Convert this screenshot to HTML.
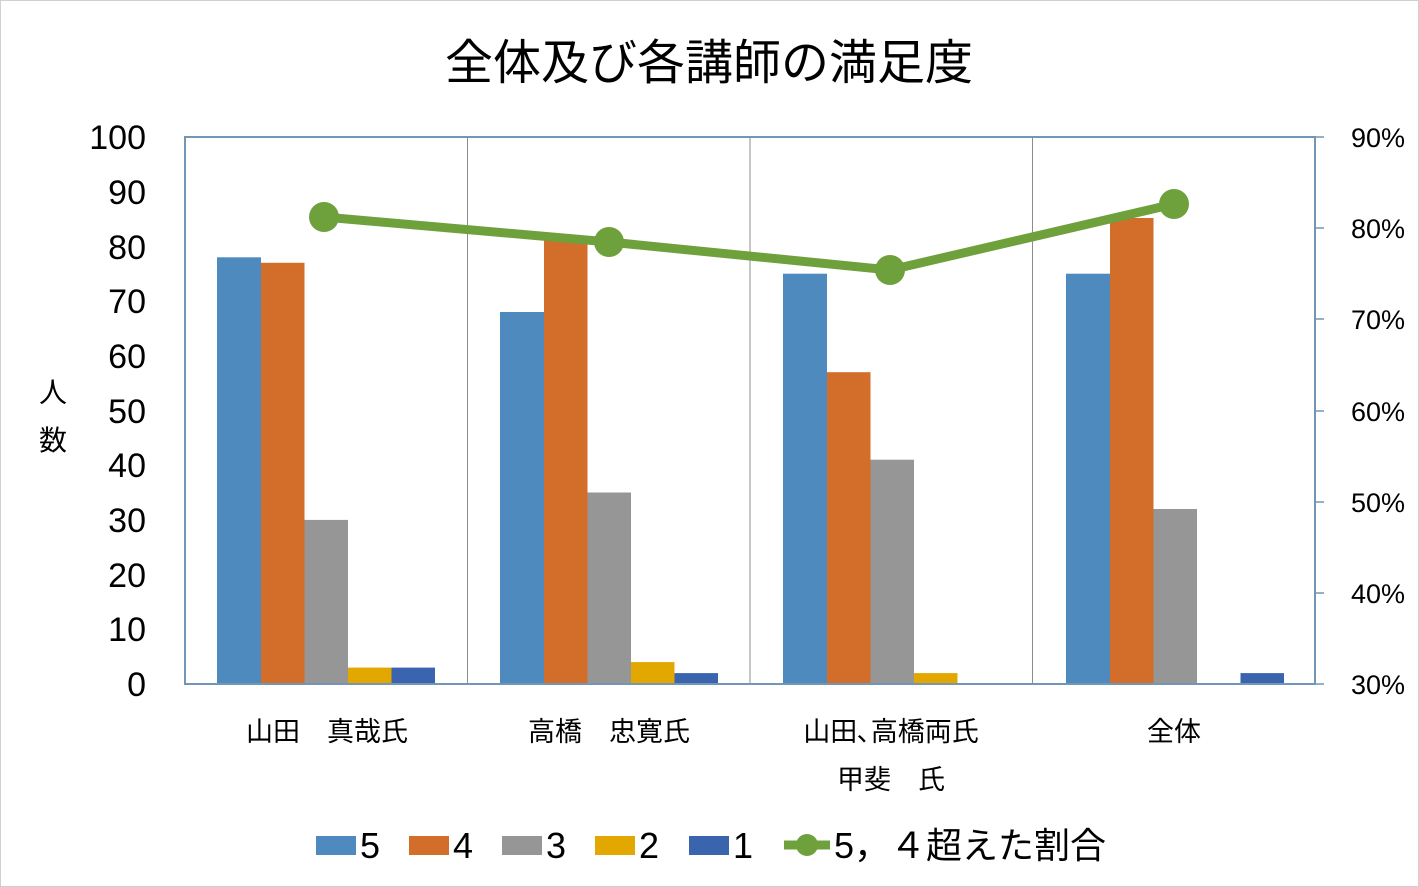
<!DOCTYPE html>
<html><head><meta charset="utf-8"><style>
html,body{margin:0;padding:0;background:#fff}
svg{display:block}
text{font-family:"Liberation Sans","Noto Sans CJK JP",sans-serif;fill:#000}
</style></head><body>
<svg width="1419" height="887" viewBox="0 0 1419 887" xmlns="http://www.w3.org/2000/svg">
<rect x="0.5" y="0.5" width="1418" height="886" fill="#fff" stroke="#d0d0d0"/>
<text x="709" y="79" font-size="48" text-anchor="middle">全体及び各講師の満足度</text>
<g stroke="#8c8c8c" stroke-width="1">
<line x1="467.5" y1="137" x2="467.5" y2="684"/>
<line x1="750" y1="137" x2="750" y2="684"/>
<line x1="1032.5" y1="137" x2="1032.5" y2="684"/>
</g>
<g>
<rect x="217" y="257.3" width="44" height="426.7" fill="#4f8abe"/>
<rect x="261" y="262.8" width="43.5" height="421.2" fill="#d26d2a"/>
<rect x="304.5" y="519.9" width="43.5" height="164.1" fill="#969696"/>
<rect x="348" y="667.6" width="43.5" height="16.4" fill="#e2a800"/>
<rect x="391.5" y="667.6" width="43.5" height="16.4" fill="#3a64ae"/>
<rect x="500" y="312" width="44" height="372" fill="#4f8abe"/>
<rect x="544" y="240" width="43.5" height="444" fill="#d26d2a"/>
<rect x="587.5" y="492.5" width="43.5" height="191.5" fill="#969696"/>
<rect x="631" y="662.1" width="43.5" height="21.9" fill="#e2a800"/>
<rect x="674.5" y="673.1" width="43.5" height="10.9" fill="#3a64ae"/>
<rect x="783" y="273.7" width="44" height="410.3" fill="#4f8abe"/>
<rect x="827" y="372.2" width="43.5" height="311.8" fill="#d26d2a"/>
<rect x="870.5" y="459.7" width="43.5" height="224.3" fill="#969696"/>
<rect x="914" y="673.1" width="43.5" height="10.9" fill="#e2a800"/>
<rect x="1066" y="273.7" width="44" height="410.3" fill="#4f8abe"/>
<rect x="1110" y="218" width="43.5" height="466" fill="#d26d2a"/>
<rect x="1153.5" y="509" width="43.5" height="175" fill="#969696"/>
<rect x="1240.5" y="673.1" width="43.5" height="10.9" fill="#3a64ae"/>
</g>
<g stroke="#7396b4" stroke-width="2" fill="none">
<line x1="185" y1="137" x2="1315" y2="137"/>
<line x1="185" y1="136" x2="185" y2="685"/>
<line x1="1315" y1="136" x2="1315" y2="685"/>
<line x1="184" y1="684" x2="1316" y2="684"/>
<g stroke-width="1.5">
<line x1="1315" y1="137" x2="1324" y2="137"/><line x1="1315" y1="228" x2="1324" y2="228"/>
<line x1="1315" y1="319" x2="1324" y2="319"/><line x1="1315" y1="411" x2="1324" y2="411"/>
<line x1="1315" y1="502" x2="1324" y2="502"/><line x1="1315" y1="593" x2="1324" y2="593"/>
<line x1="1315" y1="684" x2="1324" y2="684"/>
</g>
</g>
<polyline points="324,217 609,242 890,270 1174,204" fill="none" stroke="#6ea03c" stroke-width="9" stroke-linejoin="round"/>
<g fill="#6ea03c">
<circle cx="324" cy="217" r="15"/><circle cx="609" cy="242" r="15"/>
<circle cx="890" cy="270" r="15"/><circle cx="1174" cy="204" r="15"/>
</g>
<g font-size="34" text-anchor="end">
<text x="146" y="149">100</text><text x="146" y="204">90</text><text x="146" y="259">80</text>
<text x="146" y="313">70</text><text x="146" y="368">60</text><text x="146" y="423">50</text>
<text x="146" y="477">40</text><text x="146" y="532">30</text><text x="146" y="587">20</text>
<text x="146" y="641">10</text><text x="146" y="696">0</text>
</g>
<g font-size="27" text-anchor="end">
<text x="1405" y="147">90%</text><text x="1405" y="238">80%</text><text x="1405" y="329">70%</text>
<text x="1405" y="421">60%</text><text x="1405" y="512">50%</text><text x="1405" y="603">40%</text>
<text x="1405" y="694">30%</text>
</g>
<text x="53" y="402" font-size="28" text-anchor="middle">人</text>
<text x="53" y="450" font-size="28" text-anchor="middle">数</text>
<g font-size="27" text-anchor="middle">
<text x="327" y="741">山田　真哉氏</text>
<text x="609" y="741">高橋　忠寛氏</text>
<text x="891" y="741">山田､高橋両氏</text>
<text x="891" y="789">甲斐　氏</text>
<text x="1174" y="741">全体</text>
</g>
<g font-size="36">
<rect x="316" y="836" width="40" height="19" fill="#4f8abe"/><text x="360" y="858">5</text>
<rect x="409" y="836" width="40" height="19" fill="#d26d2a"/><text x="453" y="858">4</text>
<rect x="502" y="836" width="40" height="19" fill="#969696"/><text x="546" y="858">3</text>
<rect x="595" y="836" width="40" height="19" fill="#e2a800"/><text x="639" y="858">2</text>
<rect x="689" y="836" width="40" height="19" fill="#3a64ae"/><text x="733" y="858">1</text>
<line x1="784" y1="845" x2="830" y2="845" stroke="#6ea03c" stroke-width="9"/>
<circle cx="807" cy="845" r="11" fill="#6ea03c"/>
<text x="834" y="858">5，４超えた割合</text>
</g>
</svg>
</body></html>
